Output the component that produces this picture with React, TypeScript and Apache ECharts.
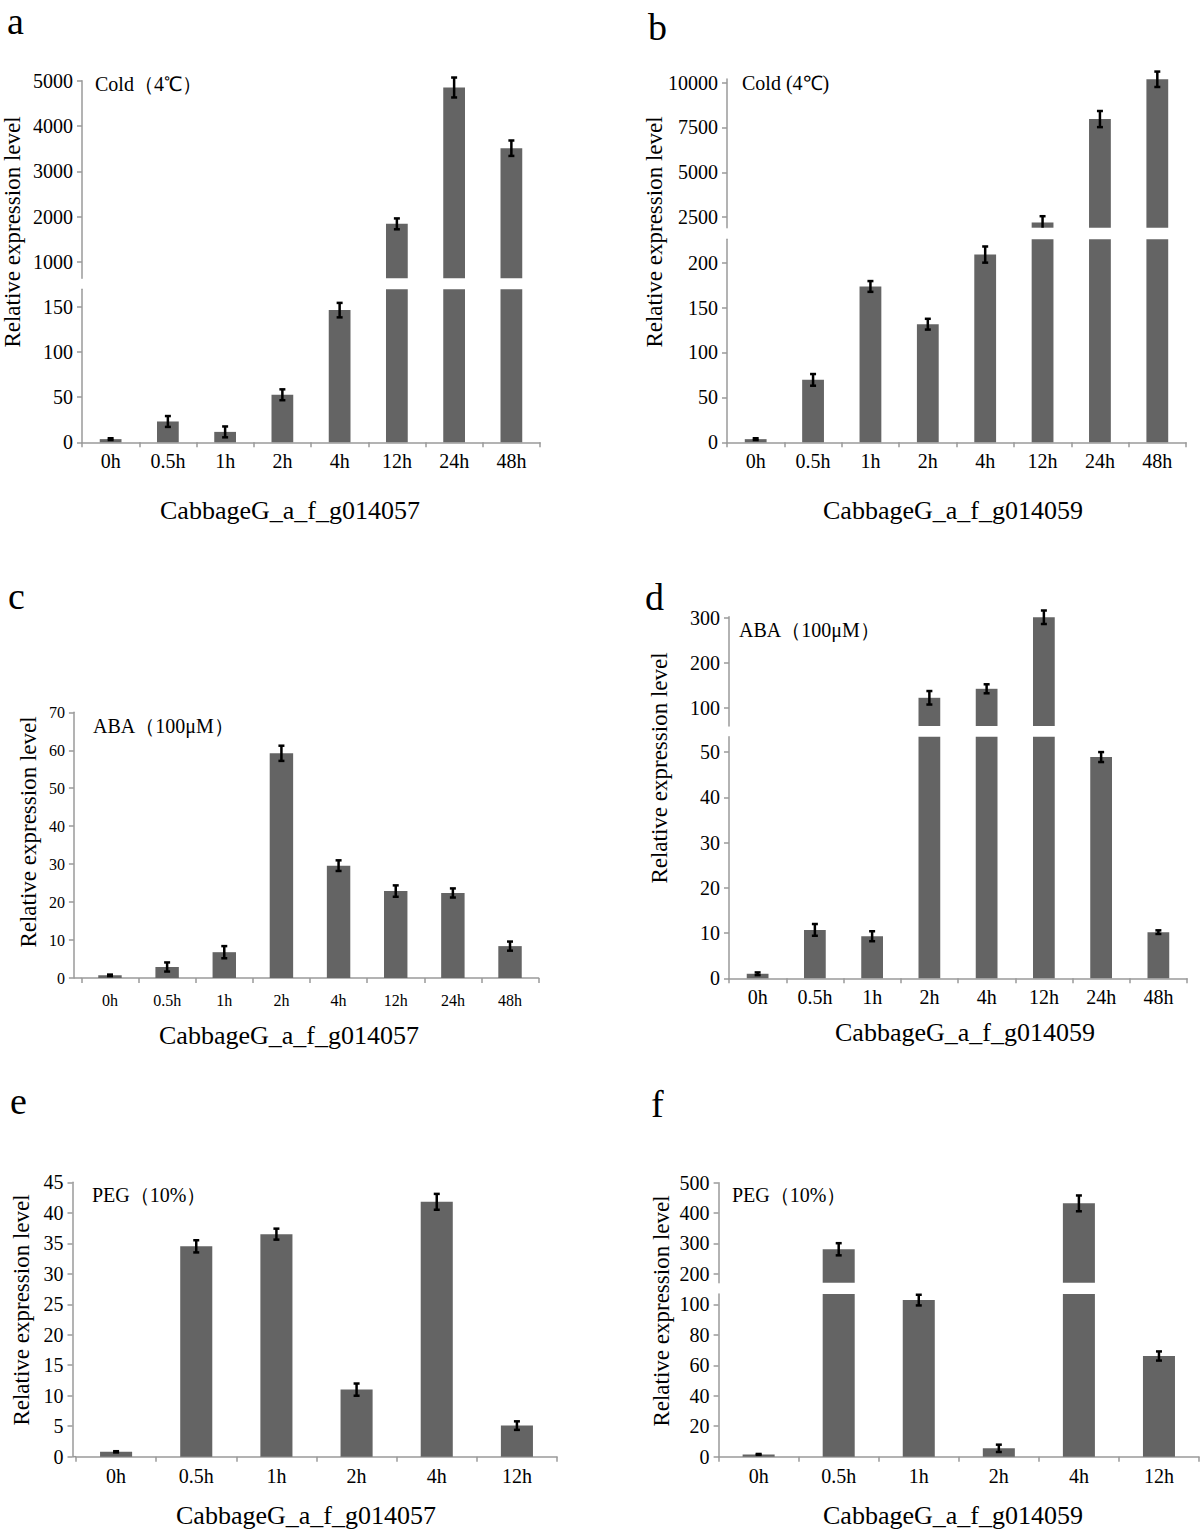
import React, { useEffect, useRef } from 'react';
import * as echarts from 'echarts';

// ---------- data ----------
const CATS8 = ['0h', '0.5h', '1h', '2h', '4h', '12h', '24h', '48h'];
const CATS6 = ['0h', '0.5h', '1h', '2h', '4h', '12h'];

const A_VALUES = [3.5, 23, 11.5, 52.5, 146, 1840, 4850, 3510];
const A_ERRORS = [1, 6, 6, 6, 8, 120, 220, 170];
const B_VALUES = [3.5, 69.5, 173.5, 131.5, 209, 2200, 7970, 10190];
const B_ERRORS = [1, 6.5, 6, 6, 9, 350, 450, 430];
const C_VALUES = [0.7, 2.9, 6.8, 59.2, 29.6, 22.9, 22.4, 8.4];
const C_ERRORS = [0.2, 1.2, 1.6, 2, 1.4, 1.5, 1.2, 1.2];
const D_VALUES = [1.0, 10.7, 9.3, 122, 142, 301, 48.9, 10.2];
const D_ERRORS = [0.3, 1.3, 1.1, 15, 10, 15, 1.1, 0.4];
const E_VALUES = [0.8, 34.5, 36.5, 11.0, 41.8, 5.1];
const E_ERRORS = [0.1, 1.0, 0.9, 1.0, 1.3, 0.7];
const F_VALUES = [1.5, 281, 102.8, 5.5, 432, 66.1];
const F_ERRORS = [0.3, 20, 3.5, 2.4, 26, 3];

const A_TOP_TICKS = [1000, 2000, 3000, 4000, 5000];
const A_BOTTOM_TICKS = [0, 50, 100, 150];
const B_TOP_TICKS = [2500, 5000, 7500, 10000];
const B_BOTTOM_TICKS = [0, 50, 100, 150, 200];
const C_TICKS = [0, 10, 20, 30, 40, 50, 60, 70];
const D_TOP_TICKS = [100, 200, 300];
const D_BOTTOM_TICKS = [0, 10, 20, 30, 40, 50];
const E_TICKS = [0, 5, 10, 15, 20, 25, 30, 35, 40, 45];
const F_TOP_TICKS = [200, 300, 400, 500];
const F_BOTTOM_TICKS = [0, 20, 40, 60, 80, 100];

const GENE_1 = 'CabbageG_a_f_g014057';
const GENE_2 = 'CabbageG_a_f_g014059';
const Y_NAME = 'Relative expression level';

// ---------- style ----------
const FONT = '"Liberation Serif", "Times New Roman", serif';
const GRAY = '#9a9a9a';
const BAR = '#646464';

type Seg = {
  left: number; right: number; top: number; bottom: number;
  min: number; max: number; ticks: number[]; cats: string[];
  values: number[]; errors: number[]; showX: boolean;
  yOffset?: number; tickSize: number; xSize?: number; xMargin?: number; barWidth: string;
};

const SEGMENTS: Seg[] = [
  // a
  { left: 82, right: 540, top: 80.7, bottom: 278.3, min: 638, max: 5000, ticks: A_TOP_TICKS, cats: CATS8, values: A_VALUES, errors: A_ERRORS, showX: false, tickSize: 20, barWidth: '38%' },
  { left: 82, right: 540, top: 289.3, bottom: 442.3, min: 0, max: 169, ticks: A_BOTTOM_TICKS, cats: CATS8, values: A_VALUES, errors: A_ERRORS, showX: true, tickSize: 20, xSize: 20, xMargin: 9, barWidth: '38%' },
  // b
  { left: 727, right: 1186, top: 79.1, bottom: 227.7, min: 1909, max: 10200, ticks: B_TOP_TICKS, cats: CATS8, values: B_VALUES, errors: B_ERRORS, showX: false, tickSize: 20, barWidth: '38%' },
  { left: 727, right: 1186, top: 239.3, bottom: 442.3, min: 0, max: 226, ticks: B_BOTTOM_TICKS, cats: CATS8, values: B_VALUES, errors: B_ERRORS, showX: true, tickSize: 20, xSize: 20, xMargin: 9, barWidth: '38%' },
  // c
  { left: 81.4, right: 538.6, top: 712.3, bottom: 978, min: 0, max: 70, ticks: C_TICKS, cats: CATS8, values: C_VALUES, errors: C_ERRORS, showX: true, yOffset: 7.5, tickSize: 16, xSize: 16, xMargin: 14, barWidth: '41%' },
  // d
  { left: 729, right: 1187, top: 616.8, bottom: 726, min: 59.3, max: 302, ticks: D_TOP_TICKS, cats: CATS8, values: D_VALUES, errors: D_ERRORS, showX: false, tickSize: 20, barWidth: '38%' },
  { left: 729, right: 1187, top: 736.7, bottom: 978.3, min: 0, max: 53.4, ticks: D_BOTTOM_TICKS, cats: CATS8, values: D_VALUES, errors: D_ERRORS, showX: true, tickSize: 20, xSize: 20, xMargin: 9, barWidth: '38%' },
  // e
  { left: 76, right: 557, top: 1182.3, bottom: 1456.7, min: 0, max: 45, ticks: E_TICKS, cats: CATS6, values: E_VALUES, errors: E_ERRORS, showX: true, yOffset: 3.5, tickSize: 20, xSize: 20, xMargin: 9, barWidth: '40%' },
  // f
  { left: 718.6, right: 1199, top: 1182.7, bottom: 1282.7, min: 171, max: 500, ticks: F_TOP_TICKS, cats: CATS6, values: F_VALUES, errors: F_ERRORS, showX: false, tickSize: 20, barWidth: '40%' },
  { left: 718.6, right: 1199, top: 1294, bottom: 1456.7, min: 0, max: 106.8, ticks: F_BOTTOM_TICKS, cats: CATS6, values: F_VALUES, errors: F_ERRORS, showX: true, tickSize: 20, xSize: 20, xMargin: 9, barWidth: '40%' },
];

const LETTERS = [
  { t: 'a', x: 7, y: 20.5 },
  { t: 'b', x: 648, y: 26.5 },
  { t: 'c', x: 8, y: 596 },
  { t: 'd', x: 645, y: 597 },
  { t: 'e', x: 10, y: 1101 },
  { t: 'f', x: 651, y: 1104 },
];

const CONDITIONS = [
  { t: 'Cold（4℃）', x: 95, y: 84 },
  { t: 'Cold (4℃)', x: 742, y: 83 },
  { t: 'ABA（100μM）', x: 93, y: 726 },
  { t: 'ABA（100μM）', x: 739, y: 630 },
  { t: 'PEG（10%）', x: 92, y: 1195 },
  { t: 'PEG（10%）', x: 732, y: 1195 },
];

const Y_NAMES = [
  { x: 12.5, y: 232 },
  { x: 654, y: 232 },
  { x: 28.6, y: 832 },
  { x: 659, y: 768 },
  { x: 21.5, y: 1310 },
  { x: 661, y: 1311 },
];

const GENES = [
  { t: GENE_1, x: 290, y: 510 },
  { t: GENE_2, x: 953, y: 510 },
  { t: GENE_1, x: 289, y: 1035 },
  { t: GENE_2, x: 965, y: 1032 },
  { t: GENE_1, x: 306, y: 1515 },
  { t: GENE_2, x: 953, y: 1515 },
];

function buildOption() {
  const grid: any[] = [];
  const xAxis: any[] = [];
  const yAxis: any[] = [];
  const series: any[] = [];
  const lineStyle = { color: GRAY, width: 1.5 };

  SEGMENTS.forEach((s, idx) => {
    grid.push({
      left: s.left, top: s.top, width: s.right - s.left, height: s.bottom - s.top,
      containLabel: false, outerBoundsMode: 'none',
    });
    xAxis.push({
      type: 'category', gridIndex: idx, data: s.cats, boundaryGap: true, show: s.showX,
      axisLine: { show: true, lineStyle },
      axisTick: { show: true, length: 5, alignWithLabel: false, inside: false, lineStyle },
      axisLabel: { interval: 0, fontSize: s.xSize || 20, fontFamily: FONT, color: '#000', margin: s.xMargin || 9 },
      splitLine: { show: false },
    });
    yAxis.push({
      type: 'value', gridIndex: idx, min: s.min, max: s.max, offset: s.yOffset || 0,
      axisLine: { show: true, lineStyle },
      axisTick: { show: true, length: 5, inside: false, lineStyle, customValues: s.ticks },
      axisLabel: {
        customValues: s.ticks, fontSize: s.tickSize, fontFamily: FONT, color: '#000', margin: 9,
        formatter: (v: number) => String(v),
      },
      splitLine: { show: false },
    });
    const lo = s.min;
    const hi = s.max;
    series.push({
      type: 'bar', xAxisIndex: idx, yAxisIndex: idx, silent: true, clip: true,
      barWidth: s.barWidth,
      itemStyle: { color: BAR },
      data: s.values.map((v) => (v >= lo ? v : '-')),
    });
    series.push({
      type: 'custom', xAxisIndex: idx, yAxisIndex: idx, silent: true, clip: false, z: 5,
      encode: { x: 0, y: 1 },
      data: s.values
        .map((v, i) => [i, v, s.errors[i]])
        .filter((d) => d[1] >= lo && d[1] <= hi),
      renderItem: (params: any, api: any) => {
        const i = api.value(0);
        const v = api.value(1);
        const e = api.value(2);
        const rawLow = v - e;
        const clamped = rawLow < lo;
        const low = clamped ? lo : rawLow;
        const high = v + e;
        const pT = api.coord([i, high]);
        const pB = api.coord([i, low]);
        const x = pT[0];
        const w = 3;
        const st = { stroke: '#000', lineWidth: 2.5 };
        const children: any[] = [
          { type: 'line', shape: { x1: x, y1: pT[1], x2: x, y2: pB[1] }, style: st },
          { type: 'line', shape: { x1: x - w, y1: pT[1], x2: x + w, y2: pT[1] }, style: st },
        ];
        if (!clamped) {
          children.push({ type: 'line', shape: { x1: x - w, y1: pB[1], x2: x + w, y2: pB[1] }, style: st });
        }
        return { type: 'group', children };
      },
    });
  });

  const graphic: any[] = [];
  LETTERS.forEach((l) => graphic.push({
    type: 'text', x: l.x, y: l.y, silent: true,
    style: { text: l.t, fontSize: 38, fontFamily: FONT, fill: '#000', align: 'left', verticalAlign: 'middle' },
  }));
  CONDITIONS.forEach((c) => graphic.push({
    type: 'text', x: c.x, y: c.y, silent: true,
    style: { text: c.t, fontSize: 20, fontFamily: FONT, fill: '#000', align: 'left', verticalAlign: 'middle' },
  }));
  Y_NAMES.forEach((n) => graphic.push({
    type: 'text', x: n.x, y: n.y, rotation: Math.PI / 2, silent: true,
    style: { text: Y_NAME, fontSize: 23, fontFamily: FONT, fill: '#000', align: 'center', verticalAlign: 'middle' },
  }));
  GENES.forEach((g) => graphic.push({
    type: 'text', x: g.x, y: g.y, silent: true,
    style: { text: g.t, fontSize: 26, fontFamily: FONT, fill: '#000', align: 'center', verticalAlign: 'middle' },
  }));
  // short x-axis extensions where the y axis sits left of the first category boundary
  [SEGMENTS[4], SEGMENTS[7]].forEach((s) => graphic.push({
    type: 'line', silent: true,
    shape: { x1: s.left - (s.yOffset || 0), y1: s.bottom, x2: s.left, y2: s.bottom },
    style: { stroke: GRAY, lineWidth: 1.5 },
  }));

  return { animation: false, backgroundColor: '#fff', grid, xAxis, yAxis, series, graphic };
}

export default function App() {
  const ref = useRef<HTMLDivElement>(null);
  useEffect(() => {
    document.body.style.margin = '0';
    if (!ref.current) return;
    const chart = echarts.init(ref.current, undefined, { renderer: 'svg' });
    chart.setOption(buildOption() as any);
    return () => chart.dispose();
  }, []);
  return <div ref={ref} style={{ width: 1200, height: 1534 }} />;
}
